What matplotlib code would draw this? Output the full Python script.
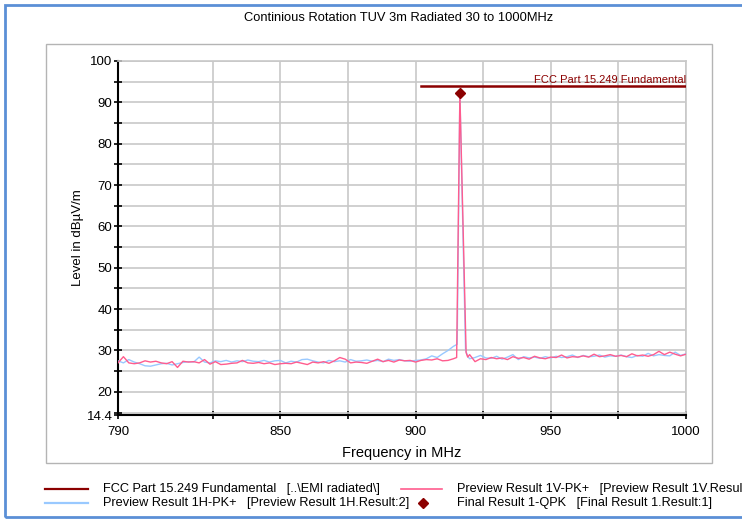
import matplotlib
matplotlib.use("Agg")
import matplotlib.pyplot as plt
from matplotlib.lines import Line2D
from matplotlib.patches import Rectangle

plt.rcParams['font.family'] = ['Liberation Sans', 'DejaVu Sans']

# ---------------- data ----------------
title = "Continious Rotation TUV 3m Radiated 30 to 1000MHz"
x_label = "Frequency in MHz"
y_label = "Level in dBµV/m"

freq_low = list(range(790, 916, 2))      # 790 .. 914
freq_high = list(range(920, 1001, 2))    # 920 .. 1000

v_low = [27.0, 28.5, 27.0, 26.8, 27.0, 27.5, 27.2, 27.4, 27.0, 26.8,
         27.3, 25.9, 27.4, 27.2, 27.3, 27.0, 27.8, 26.7, 27.3, 26.6,
         26.7, 26.9, 27.0, 27.6, 27.0, 26.9, 27.1, 26.8, 27.0, 26.6,
         26.8, 26.9, 26.8, 27.2, 26.9, 26.6, 27.2, 27.0, 27.3, 26.9,
         27.5, 28.3, 27.9, 27.0, 27.2, 27.1, 26.9, 27.4, 27.9, 27.3,
         27.6, 27.2, 27.7, 27.5, 27.6, 27.2, 27.6, 27.8, 27.7, 28.0,
         27.5, 27.6, 28.0]
v_peak_f = [915.2, 916.4, 918.7, 919.3]
v_peak = [28.3, 92.2, 29.5, 28.4]
v_high = [29.0, 27.3, 28.0, 27.8, 28.3, 28.0, 28.2, 27.8, 28.5, 28.1,
          28.3, 27.9, 28.6, 28.2, 28.0, 28.4, 28.3, 28.9, 28.2, 28.5,
          28.4, 28.7, 28.4, 29.1, 28.5, 28.7, 29.0, 28.6, 28.8, 28.5,
          29.2, 28.7, 28.9, 28.6, 29.0, 29.8, 29.0, 29.6, 29.1, 28.7,
          29.1]

h_low = [27.5, 27.0, 27.8, 27.2, 26.8, 26.3, 26.2, 26.5, 26.8, 26.9,
         26.5, 26.8, 27.1, 27.3, 27.2, 28.4, 27.2, 27.0, 27.5, 27.3,
         27.6, 27.2, 27.5, 27.3, 27.7, 27.4, 27.3, 27.6, 27.2, 27.5,
         27.6, 27.0, 27.4, 27.2, 27.8, 27.9, 27.5, 27.2, 27.0, 27.6,
         27.3, 27.5, 27.2, 27.8, 27.4, 27.5, 27.7, 27.4, 27.6, 27.3,
         27.9, 27.6, 27.8, 27.5, 27.4, 27.6, 27.7, 28.0, 28.7, 28.3,
         29.2, 30.0, 31.0]
h_peak_f = [915.4, 916.4, 918.5, 919.4]
h_peak = [31.5, 92.0, 30.0, 28.5]
h_high = [28.0, 28.3, 28.8, 28.2, 28.1, 28.6, 27.9, 28.4, 29.0, 27.8,
          28.5, 28.2, 28.4, 28.1, 28.5, 28.2, 28.6, 28.3, 28.5, 28.9,
          28.3, 28.8, 28.5, 28.6, 28.9, 28.4, 28.7, 28.6, 28.9, 28.5,
          28.3, 28.8, 28.6, 29.3, 28.7, 29.0, 28.8, 28.7, 29.6, 28.8,
          29.2]

limit_f = [902, 1000]
limit_v = [94, 94]
limit_name = "FCC Part 15.249 Fundamental"

final_f = [916.4]
final_v = [92.2]

x_ticks = [790, 850, 900, 950, 1000]
x_minor = [825, 875, 925, 975]
y_ticks = [14.4, 20, 30, 40, 50, 60, 70, 80, 90, 100]
y_tick_labels = ["14.4", "20", "30", "40", "50", "60", "70", "80", "90", "100"]
y_minor = [15, 25, 35, 45, 55, 65, 75, 85, 95]

legend_entries = [
    "FCC Part 15.249 Fundamental   [..\\EMI radiated\\]",
    "Preview Result 1V-PK+   [Preview Result 1V.Result:1]",
    "Preview Result 1H-PK+   [Preview Result 1H.Result:2]",
    "Final Result 1-QPK   [Final Result 1.Result:1]",
]

# ---------------- styles ----------------
C_LIMIT = "#8b0000"
C_V = "#ff5c8e"
C_H = "#99c9ff"
C_GRID = "#c8c8c8"

W, H = 742, 521
fig = plt.figure(figsize=(W / 100, H / 100), dpi=100)
fig.patch.set_facecolor("white")

def fx(px):
    return px / W

def fy(py):
    return 1 - py / H

ax = fig.add_axes([fx(118), fy(415), fx(686) - fx(118), fy(61) - fy(415)])

v_f = freq_low + v_peak_f + freq_high
v_vals = v_low + v_peak + v_high
h_f = freq_low + h_peak_f + freq_high
h_vals = h_low + h_peak + h_high

ax.plot(h_f, h_vals, color=C_H, lw=1.0, zorder=3)
ax.plot(v_f, v_vals, color=C_V, lw=1.0, zorder=3)
ax.plot(limit_f, limit_v, color=C_LIMIT, lw=1.8, zorder=4)
ax.plot(final_f, final_v, marker="D", color=C_LIMIT, ms=5, ls="none", zorder=5)
ax.text(limit_f[-1], limit_v[0] + 0.3, limit_name, color=C_LIMIT, fontsize=8,
        ha="right", va="bottom", zorder=5)

ax.set_xlim(790, 1000)
ax.set_ylim(14.4, 100)
ax.set_xticks(x_ticks)
ax.set_xticks(x_minor, minor=True)
ax.set_yticks(y_ticks)
ax.set_yticklabels(y_tick_labels)
ax.set_yticks(y_minor, minor=True)
ax.grid(True, which="both", color=C_GRID, lw=1.2, zorder=0)
ax.set_axisbelow(True)
ax.tick_params(axis="both", which="both", direction="inout", length=6,
               width=1.2, color="black", labelsize=9.5, pad=1)
ax.tick_params(axis="x", which="both", pad=5)
for s in ("top", "right"):
    ax.spines[s].set_color(C_GRID)
    ax.spines[s].set_linewidth(1.2)
for s in ("left", "bottom"):
    ax.spines[s].set_color("black")
    ax.spines[s].set_linewidth(1.5)
ax.set_xlabel(x_label, fontsize=10.5, labelpad=6)
ax.set_ylabel(y_label, fontsize=9.5, labelpad=2)

# title
fig.text(fx(399), fy(18), title, fontsize=9.3, ha="center", va="center")

# inner gray box
fig.add_artist(Rectangle((fx(46), fy(463)), fx(712) - fx(46), fy(44) - fy(463),
                         transform=fig.transFigure, fill=False,
                         edgecolor="#b4b4b4", lw=1.0))
# outer blue frame
fig.add_artist(Rectangle((fx(5), fy(517)), fx(760) - fx(5), fy(5) - fy(517),
                         transform=fig.transFigure, fill=False,
                         edgecolor="#5b8fd6", lw=2.0))

# legend (manual)
row1, row2 = 489, 503
fig.add_artist(Line2D([fx(45), fx(88)], [fy(row1), fy(row1)], color=C_LIMIT, lw=1.6))
fig.add_artist(Line2D([fx(401), fx(442)], [fy(row1), fy(row1)], color=C_V, lw=1.2))
fig.add_artist(Line2D([fx(45), fx(88)], [fy(row2), fy(row2)], color=C_H, lw=1.6))
fig.add_artist(Line2D([fx(423)], [fy(row2)], marker="D", color=C_LIMIT, ms=5, ls="none"))
fs_leg = 9.2
fig.text(fx(103), fy(row1), legend_entries[0], fontsize=fs_leg, va="center")
fig.text(fx(457), fy(row1), legend_entries[1], fontsize=fs_leg, va="center")
fig.text(fx(103), fy(row2), legend_entries[2], fontsize=fs_leg, va="center")
fig.text(fx(457), fy(row2), legend_entries[3], fontsize=fs_leg, va="center")

fig.savefig("out.png", dpi=100)
